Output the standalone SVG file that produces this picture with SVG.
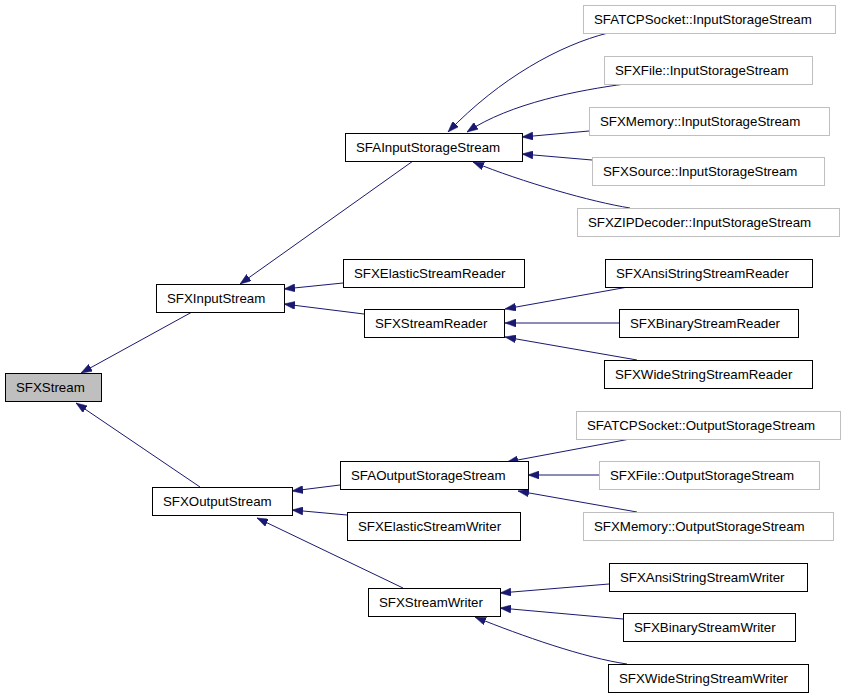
<svg xmlns="http://www.w3.org/2000/svg" width="845" height="696" viewBox="0 0 845 696">
<style>
.n rect{fill:#fff;stroke:#000;stroke-width:1}
.g rect{fill:#fff;stroke:#bfbfbf;stroke-width:1}
.root rect{fill:#bfbfbf;stroke:#000;stroke-width:1}
text{font-family:"Liberation Sans",Arial,Helvetica,sans-serif;font-size:13.3px;fill:#000}
.e path{fill:none;stroke:#191970;stroke-width:1;marker-end:url(#a)}
</style>
<defs>
<marker id="a" viewBox="0 0 11 8" refX="11" refY="4" markerWidth="11" markerHeight="8" markerUnits="userSpaceOnUse" orient="auto">
<path d="M0,0 L11,4 L0,8 z" fill="#191970" stroke="#191970" stroke-width="0.5"/>
</marker>
</defs>
<rect width="845" height="696" fill="#fff"/>
<g id="edges" class="e">
<path d="M192,312 L81,373"/>
<path d="M200,487 L76,403"/>
<path d="M413,161 L240,284"/>
<path d="M343,283 L284,289"/>
<path d="M364,314 L284,304"/>
<path d="M608,33 C560,45 500,78 448,132"/>
<path d="M625,84 C580,90 510,103 467,132"/>
<path d="M589,131 L522,137"/>
<path d="M592,160 L522,154"/>
<path d="M630,208 C592,202 522,182 473,162"/>
<path d="M628,287 L505,309"/>
<path d="M619,323 L505,323"/>
<path d="M637,360 L505,337"/>
<path d="M340,485 L292,491"/>
<path d="M347,515 L292,510"/>
<path d="M403,588 L257,518"/>
<path d="M630,439 L507,462"/>
<path d="M599,475 L528,475"/>
<path d="M637,512 L518,491"/>
<path d="M609,584 L500,593"/>
<path d="M623,619 L500,608"/>
<path d="M627,664 C585,658 522,636 475,617"/>
</g>
<g id="SFXStream" class="root"><rect x="5.5" y="373.5" width="96" height="28"/><text x="16" y="392">SFXStream</text></g>
<g id="SFXInputStream" class="n"><rect x="156.5" y="284.5" width="128" height="28"/><text x="167" y="303">SFXInputStream</text></g>
<g id="SFXOutputStream" class="n"><rect x="152.5" y="487.5" width="140" height="28"/><text x="163" y="506">SFXOutputStream</text></g>
<g id="SFAInputStorageStream" class="n"><rect x="345.5" y="133.5" width="177" height="28"/><text x="356" y="152">SFAInputStorageStream</text></g>
<g id="SFXElasticStreamReader" class="n"><rect x="343.5" y="259.5" width="181" height="28"/><text x="354" y="278">SFXElasticStreamReader</text></g>
<g id="SFXStreamReader" class="n"><rect x="364.5" y="309.5" width="140" height="28"/><text x="375" y="328">SFXStreamReader</text></g>
<g id="SFAOutputStorageStream" class="n"><rect x="340.5" y="461.5" width="188" height="28"/><text x="351" y="480">SFAOutputStorageStream</text></g>
<g id="SFXElasticStreamWriter" class="n"><rect x="347.5" y="512.5" width="173" height="28"/><text x="358" y="531">SFXElasticStreamWriter</text></g>
<g id="SFXStreamWriter" class="n"><rect x="368.5" y="588.5" width="132" height="28"/><text x="379" y="607">SFXStreamWriter</text></g>
<g id="SFATCPSocket_InputStorageStream" class="g"><rect x="583.5" y="5.5" width="252" height="28"/><text x="594" y="24">SFATCPSocket::InputStorageStream</text></g>
<g id="SFXFile_InputStorageStream" class="g"><rect x="604.5" y="56.5" width="208" height="28"/><text x="615" y="75">SFXFile::InputStorageStream</text></g>
<g id="SFXMemory_InputStorageStream" class="g"><rect x="589.5" y="107.5" width="240" height="28"/><text x="600" y="126">SFXMemory::InputStorageStream</text></g>
<g id="SFXSource_InputStorageStream" class="g"><rect x="592.5" y="157.5" width="232" height="28"/><text x="603" y="176">SFXSource::InputStorageStream</text></g>
<g id="SFXZIPDecoder_InputStorageStream" class="g"><rect x="577.5" y="208.5" width="262" height="28"/><text x="588" y="227">SFXZIPDecoder::InputStorageStream</text></g>
<g id="SFXAnsiStringStreamReader" class="n"><rect x="605.5" y="259.5" width="207" height="28"/><text x="616" y="278">SFXAnsiStringStreamReader</text></g>
<g id="SFXBinaryStreamReader" class="n"><rect x="619.5" y="309.5" width="179" height="28"/><text x="630" y="328">SFXBinaryStreamReader</text></g>
<g id="SFXWideStringStreamReader" class="n"><rect x="604.5" y="360.5" width="208" height="28"/><text x="615" y="379">SFXWideStringStreamReader</text></g>
<g id="SFATCPSocket_OutputStorageStream" class="g"><rect x="576.5" y="411.5" width="264" height="28"/><text x="587" y="430">SFATCPSocket::OutputStorageStream</text></g>
<g id="SFXFile_OutputStorageStream" class="g"><rect x="599.5" y="461.5" width="220" height="28"/><text x="610" y="480">SFXFile::OutputStorageStream</text></g>
<g id="SFXMemory_OutputStorageStream" class="g"><rect x="583.5" y="512.5" width="250" height="28"/><text x="594" y="531">SFXMemory::OutputStorageStream</text></g>
<g id="SFXAnsiStringStreamWriter" class="n"><rect x="609.5" y="563.5" width="198" height="28"/><text x="620" y="582">SFXAnsiStringStreamWriter</text></g>
<g id="SFXBinaryStreamWriter" class="n"><rect x="623.5" y="613.5" width="172" height="28"/><text x="634" y="632">SFXBinaryStreamWriter</text></g>
<g id="SFXWideStringStreamWriter" class="n"><rect x="608.5" y="664.5" width="200" height="28"/><text x="619" y="683">SFXWideStringStreamWriter</text></g>
</svg>
